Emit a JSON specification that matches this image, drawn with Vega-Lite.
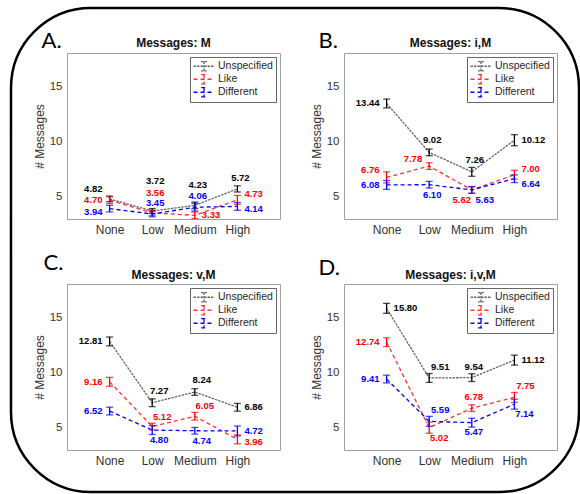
{
"$schema": "https://vega.github.io/schema/vega-lite/v6.json",
"padding": {"left": 9, "top": 6, "right": 0, "bottom": 0},
"autosize": {"type": "pad"},
"data": {"values": [
{"p":"A","s":"Unspecified","l":"None","v":4.82,"e":0.25},
{"p":"A","s":"Unspecified","l":"Low","v":3.72,"e":0.22},
{"p":"A","s":"Unspecified","l":"Medium","v":4.23,"e":0.3},
{"p":"A","s":"Unspecified","l":"High","v":5.72,"e":0.28},
{"p":"A","s":"Like","l":"None","v":4.70,"e":0.3},
{"p":"A","s":"Like","l":"Low","v":3.56,"e":0.25},
{"p":"A","s":"Like","l":"Medium","v":3.33,"e":0.3},
{"p":"A","s":"Like","l":"High","v":4.73,"e":0.4},
{"p":"A","s":"Different","l":"None","v":3.94,"e":0.3},
{"p":"A","s":"Different","l":"Low","v":3.45,"e":0.25},
{"p":"A","s":"Different","l":"Medium","v":4.06,"e":0.35},
{"p":"A","s":"Different","l":"High","v":4.14,"e":0.35},
{"p":"B","s":"Unspecified","l":"None","v":13.44,"e":0.4},
{"p":"B","s":"Unspecified","l":"Low","v":9.02,"e":0.3},
{"p":"B","s":"Unspecified","l":"Medium","v":7.26,"e":0.4},
{"p":"B","s":"Unspecified","l":"High","v":10.12,"e":0.5},
{"p":"B","s":"Like","l":"None","v":6.76,"e":0.5},
{"p":"B","s":"Like","l":"Low","v":7.78,"e":0.3},
{"p":"B","s":"Like","l":"Medium","v":5.62,"e":0.3},
{"p":"B","s":"Like","l":"High","v":7.00,"e":0.4},
{"p":"B","s":"Different","l":"None","v":6.08,"e":0.4},
{"p":"B","s":"Different","l":"Low","v":6.10,"e":0.3},
{"p":"B","s":"Different","l":"Medium","v":5.63,"e":0.3},
{"p":"B","s":"Different","l":"High","v":6.64,"e":0.35},
{"p":"C","s":"Unspecified","l":"None","v":12.81,"e":0.4},
{"p":"C","s":"Unspecified","l":"Low","v":7.27,"e":0.35},
{"p":"C","s":"Unspecified","l":"Medium","v":8.24,"e":0.3},
{"p":"C","s":"Unspecified","l":"High","v":6.86,"e":0.35},
{"p":"C","s":"Like","l":"None","v":9.16,"e":0.4},
{"p":"C","s":"Like","l":"Low","v":5.12,"e":0.3},
{"p":"C","s":"Like","l":"Medium","v":6.05,"e":0.35},
{"p":"C","s":"Like","l":"High","v":3.96,"e":0.4},
{"p":"C","s":"Different","l":"None","v":6.52,"e":0.35},
{"p":"C","s":"Different","l":"Low","v":4.80,"e":0.4},
{"p":"C","s":"Different","l":"Medium","v":4.74,"e":0.3},
{"p":"C","s":"Different","l":"High","v":4.72,"e":0.45},
{"p":"D","s":"Unspecified","l":"None","v":15.80,"e":0.45},
{"p":"D","s":"Unspecified","l":"Low","v":9.51,"e":0.4},
{"p":"D","s":"Unspecified","l":"Medium","v":9.54,"e":0.35},
{"p":"D","s":"Unspecified","l":"High","v":11.12,"e":0.45},
{"p":"D","s":"Like","l":"None","v":12.74,"e":0.4},
{"p":"D","s":"Like","l":"Low","v":5.02,"e":0.5},
{"p":"D","s":"Like","l":"Medium","v":6.78,"e":0.3},
{"p":"D","s":"Like","l":"High","v":7.75,"e":0.45},
{"p":"D","s":"Different","l":"None","v":9.41,"e":0.35},
{"p":"D","s":"Different","l":"Low","v":5.59,"e":0.45},
{"p":"D","s":"Different","l":"Medium","v":5.47,"e":0.4},
{"p":"D","s":"Different","l":"High","v":7.14,"e":0.45}
]},
"columns": 2,
"spacing": {"row": 65, "column": 64},
"bounds": "flush",
"resolve": {"scale": {"x": "independent", "y": "independent", "color": "independent", "strokeDash": "independent", "opacity": "independent"}},
"concat": [
{
 "width": 213, "height": 166,
 "transform": [{"filter": "datum.p == 'A'"}],
 "encoding": {
  "x": {"field": "l", "type": "ordinal", "sort": ["None","Low","Medium","High"], "scale": {"type": "point", "padding": 1}, "axis": {"title": null, "labelAngle": 0, "labelFontSize": 12, "labelPadding": 5}},
  "y": {"field": "v", "type": "quantitative", "scale": {"domain": [3, 18], "nice": false, "zero": false}, "axis": {"title": "# Messages", "values": [5, 10, 15], "labelFontSize": 11.5, "titleFontSize": 12, "labelPadding": 5, "titlePadding": 3}},
  "color": {"field": "s", "type": "nominal", "scale": {"domain": ["Unspecified","Like","Different"], "range": ["#000000","#ff0000","#0000ff"]}, "legend": {"title": null}}
 },
 "layer": [
  {"transform": [{"filter": "datum.s == 'Unspecified' && datum.l == 'None'"}], "mark": {"type": "rect", "filled": false, "stroke": "black", "strokeWidth": 2.5, "cornerRadius": 80, "clip": false}, "encoding": {"x": {"value": -56}, "x2": {"value": 512}, "y": {"value": -45}, "y2": {"value": 439}, "color": {"value": "black"}}},
  {"transform": [{"filter": "datum.s == 'Unspecified' && datum.l == 'None'"}], "mark": {"type": "text", "text": "A.", "font": "Lato", "fontSize": 22, "align": "left", "baseline": "alphabetic", "dx": -68, "dy": -5}, "encoding": {"x": {"datum": "None"}, "y": {"datum": 18}, "color": {"value": "black"}}},
  {"transform": [{"filter": "datum.s == 'Unspecified' && datum.l == 'None'"}], "mark": {"type": "text", "text": "Messages: M", "fontSize": 12, "fontWeight": "bold", "align": "center", "baseline": "alphabetic", "dx": 21.3, "dy": -6}, "encoding": {"x": {"datum": "Low"}, "y": {"datum": 18}, "color": {"value": "#111111"}}},
  {"mark": {"type": "line", "strokeWidth": 1.3}, "encoding": {"strokeDash": {"field": "s", "type": "nominal", "scale": {"domain": ["Unspecified","Like","Different"], "range": [[2.5,1],[4,3],[4,3]]}, "legend": {"title": null}}, "opacity": {"field": "s", "type": "nominal", "scale": {"domain": ["Unspecified","Like","Different"], "range": [0.6,1,1]}, "legend": null}}},
  {"mark": {"type": "errorbar", "ticks": {"size": 7}, "thickness": 1.3}, "encoding": {"yError": {"field": "e"}}},
  {"transform": [{"filter": "indexof(['LNone'], substring(datum.s,0,1)+datum.l) >= 0"}], "mark": {"type": "text", "align": "right", "baseline": "middle", "dx": -7, "dy": 0, "fontWeight": "bold", "fontSize": 9.5}, "encoding": {"text": {"field": "v", "type": "quantitative", "format": ".2f"}}},
  {"transform": [{"filter": "indexof(['DNone'], substring(datum.s,0,1)+datum.l) >= 0"}], "mark": {"type": "text", "align": "right", "baseline": "middle", "dx": -7, "dy": 3, "fontWeight": "bold", "fontSize": 9.5}, "encoding": {"text": {"field": "v", "type": "quantitative", "format": ".2f"}}},
  {"transform": [{"filter": "indexof(['UNone'], substring(datum.s,0,1)+datum.l) >= 0"}], "mark": {"type": "text", "align": "right", "baseline": "middle", "dx": -7, "dy": -10, "fontWeight": "bold", "fontSize": 9.5}, "encoding": {"text": {"field": "v", "type": "quantitative", "format": ".2f"}}},
  {"transform": [{"filter": "indexof(['LMedium'], substring(datum.s,0,1)+datum.l) >= 0"}], "mark": {"type": "text", "align": "left", "baseline": "middle", "dx": 7, "dy": 0, "fontWeight": "bold", "fontSize": 9.5}, "encoding": {"text": {"field": "v", "type": "quantitative", "format": ".2f"}}},
  {"transform": [{"filter": "indexof(['LHigh'], substring(datum.s,0,1)+datum.l) >= 0"}], "mark": {"type": "text", "align": "left", "baseline": "middle", "dx": 7, "dy": -6, "fontWeight": "bold", "fontSize": 9.5}, "encoding": {"text": {"field": "v", "type": "quantitative", "format": ".2f"}}},
  {"transform": [{"filter": "indexof(['DHigh'], substring(datum.s,0,1)+datum.l) >= 0"}], "mark": {"type": "text", "align": "left", "baseline": "middle", "dx": 7, "dy": 3, "fontWeight": "bold", "fontSize": 9.5}, "encoding": {"text": {"field": "v", "type": "quantitative", "format": ".2f"}}},
  {"transform": [{"filter": "indexof(['UHigh','DLow','DMedium'], substring(datum.s,0,1)+datum.l) >= 0"}], "mark": {"type": "text", "align": "center", "baseline": "middle", "dx": 3, "dy": -11, "fontWeight": "bold", "fontSize": 9.5}, "encoding": {"text": {"field": "v", "type": "quantitative", "format": ".2f"}}},
  {"transform": [{"filter": "indexof(['LLow','UMedium'], substring(datum.s,0,1)+datum.l) >= 0"}], "mark": {"type": "text", "align": "center", "baseline": "middle", "dx": 3, "dy": -20, "fontWeight": "bold", "fontSize": 9.5}, "encoding": {"text": {"field": "v", "type": "quantitative", "format": ".2f"}}},
  {"transform": [{"filter": "indexof(['ULow'], substring(datum.s,0,1)+datum.l) >= 0"}], "mark": {"type": "text", "align": "center", "baseline": "middle", "dx": 3, "dy": -30, "fontWeight": "bold", "fontSize": 9.5}, "encoding": {"text": {"field": "v", "type": "quantitative", "format": ".2f"}}}
 ]
},
{
 "width": 213, "height": 166,
 "transform": [{"filter": "datum.p == 'B'"}],
 "encoding": {
  "x": {"field": "l", "type": "ordinal", "sort": ["None","Low","Medium","High"], "scale": {"type": "point", "padding": 1}, "axis": {"title": null, "labelAngle": 0, "labelFontSize": 12, "labelPadding": 5}},
  "y": {"field": "v", "type": "quantitative", "scale": {"domain": [3, 18], "nice": false, "zero": false}, "axis": {"title": "# Messages", "values": [5, 10, 15], "labelFontSize": 11.5, "titleFontSize": 12, "labelPadding": 5, "titlePadding": 3}},
  "color": {"field": "s", "type": "nominal", "scale": {"domain": ["Unspecified","Like","Different"], "range": ["#000000","#ff0000","#0000ff"]}, "legend": {"title": null}}
 },
 "layer": [
  {"transform": [{"filter": "datum.s == 'Unspecified' && datum.l == 'None'"}], "mark": {"type": "text", "text": "B.", "font": "Lato", "fontSize": 22, "align": "left", "baseline": "alphabetic", "dx": -68, "dy": -5}, "encoding": {"x": {"datum": "None"}, "y": {"datum": 18}, "color": {"value": "black"}}},
  {"transform": [{"filter": "datum.s == 'Unspecified' && datum.l == 'None'"}], "mark": {"type": "text", "text": "Messages: i,M", "fontSize": 12, "fontWeight": "bold", "align": "center", "baseline": "alphabetic", "dx": 21.3, "dy": -6}, "encoding": {"x": {"datum": "Low"}, "y": {"datum": 18}, "color": {"value": "#111111"}}},
  {"mark": {"type": "line", "strokeWidth": 1.3}, "encoding": {"strokeDash": {"field": "s", "type": "nominal", "scale": {"domain": ["Unspecified","Like","Different"], "range": [[2.5,1],[4,3],[4,3]]}, "legend": {"title": null}}, "opacity": {"field": "s", "type": "nominal", "scale": {"domain": ["Unspecified","Like","Different"], "range": [0.6,1,1]}, "legend": null}}},
  {"mark": {"type": "errorbar", "ticks": {"size": 7}, "thickness": 1.3}, "encoding": {"yError": {"field": "e"}}},
  {"transform": [{"filter": "indexof(['UNone','DNone'], substring(datum.s,0,1)+datum.l) >= 0"}], "mark": {"type": "text", "align": "right", "baseline": "middle", "dx": -7, "dy": 0, "fontWeight": "bold", "fontSize": 9.5}, "encoding": {"text": {"field": "v", "type": "quantitative", "format": ".2f"}}},
  {"transform": [{"filter": "indexof(['LNone','LLow'], substring(datum.s,0,1)+datum.l) >= 0"}], "mark": {"type": "text", "align": "right", "baseline": "middle", "dx": -7, "dy": -7, "fontWeight": "bold", "fontSize": 9.5}, "encoding": {"text": {"field": "v", "type": "quantitative", "format": ".2f"}}},
  {"transform": [{"filter": "indexof(['UHigh'], substring(datum.s,0,1)+datum.l) >= 0"}], "mark": {"type": "text", "align": "left", "baseline": "middle", "dx": 7, "dy": 0, "fontWeight": "bold", "fontSize": 9.5}, "encoding": {"text": {"field": "v", "type": "quantitative", "format": ".2f"}}},
  {"transform": [{"filter": "indexof(['LHigh'], substring(datum.s,0,1)+datum.l) >= 0"}], "mark": {"type": "text", "align": "left", "baseline": "middle", "dx": 7, "dy": -6, "fontWeight": "bold", "fontSize": 9.5}, "encoding": {"text": {"field": "v", "type": "quantitative", "format": ".2f"}}},
  {"transform": [{"filter": "indexof(['DHigh'], substring(datum.s,0,1)+datum.l) >= 0"}], "mark": {"type": "text", "align": "left", "baseline": "middle", "dx": 7, "dy": 5, "fontWeight": "bold", "fontSize": 9.5}, "encoding": {"text": {"field": "v", "type": "quantitative", "format": ".2f"}}},
  {"transform": [{"filter": "indexof(['ULow','UMedium'], substring(datum.s,0,1)+datum.l) >= 0"}], "mark": {"type": "text", "align": "center", "baseline": "middle", "dx": 3, "dy": -12, "fontWeight": "bold", "fontSize": 9.5}, "encoding": {"text": {"field": "v", "type": "quantitative", "format": ".2f"}}},
  {"transform": [{"filter": "indexof(['DLow'], substring(datum.s,0,1)+datum.l) >= 0"}], "mark": {"type": "text", "align": "center", "baseline": "middle", "dx": 3, "dy": 10, "fontWeight": "bold", "fontSize": 9.5}, "encoding": {"text": {"field": "v", "type": "quantitative", "format": ".2f"}}},
  {"transform": [{"filter": "indexof(['LMedium'], substring(datum.s,0,1)+datum.l) >= 0"}], "mark": {"type": "text", "align": "center", "baseline": "middle", "dx": -10, "dy": 10, "fontWeight": "bold", "fontSize": 9.5}, "encoding": {"text": {"field": "v", "type": "quantitative", "format": ".2f"}}},
  {"transform": [{"filter": "indexof(['DMedium'], substring(datum.s,0,1)+datum.l) >= 0"}], "mark": {"type": "text", "align": "center", "baseline": "middle", "dx": 13, "dy": 10, "fontWeight": "bold", "fontSize": 9.5}, "encoding": {"text": {"field": "v", "type": "quantitative", "format": ".2f"}}}
 ]
},
{
 "width": 213, "height": 166,
 "transform": [{"filter": "datum.p == 'C'"}],
 "encoding": {
  "x": {"field": "l", "type": "ordinal", "sort": ["None","Low","Medium","High"], "scale": {"type": "point", "padding": 1}, "axis": {"title": null, "labelAngle": 0, "labelFontSize": 12, "labelPadding": 5}},
  "y": {"field": "v", "type": "quantitative", "scale": {"domain": [3, 18], "nice": false, "zero": false}, "axis": {"title": "# Messages", "values": [5, 10, 15], "labelFontSize": 11.5, "titleFontSize": 12, "labelPadding": 5, "titlePadding": 3}},
  "color": {"field": "s", "type": "nominal", "scale": {"domain": ["Unspecified","Like","Different"], "range": ["#000000","#ff0000","#0000ff"]}, "legend": {"title": null}}
 },
 "layer": [
  {"transform": [{"filter": "datum.s == 'Unspecified' && datum.l == 'None'"}], "mark": {"type": "text", "text": "C.", "font": "Lato", "fontSize": 22, "align": "left", "baseline": "alphabetic", "dx": -66, "dy": -14}, "encoding": {"x": {"datum": "None"}, "y": {"datum": 18}, "color": {"value": "black"}}},
  {"transform": [{"filter": "datum.s == 'Unspecified' && datum.l == 'None'"}], "mark": {"type": "text", "text": "Messages: v,M", "fontSize": 12, "fontWeight": "bold", "align": "center", "baseline": "alphabetic", "dx": 21.3, "dy": -5}, "encoding": {"x": {"datum": "Low"}, "y": {"datum": 18}, "color": {"value": "#111111"}}},
  {"mark": {"type": "line", "strokeWidth": 1.3}, "encoding": {"strokeDash": {"field": "s", "type": "nominal", "scale": {"domain": ["Unspecified","Like","Different"], "range": [[2.5,1],[4,3],[4,3]]}, "legend": {"title": null}}, "opacity": {"field": "s", "type": "nominal", "scale": {"domain": ["Unspecified","Like","Different"], "range": [0.6,1,1]}, "legend": null}}},
  {"mark": {"type": "errorbar", "ticks": {"size": 7}, "thickness": 1.3}, "encoding": {"yError": {"field": "e"}}},
  {"transform": [{"filter": "indexof(['UNone','LNone','DNone'], substring(datum.s,0,1)+datum.l) >= 0"}], "mark": {"type": "text", "align": "right", "baseline": "middle", "dx": -7, "dy": 0, "fontWeight": "bold", "fontSize": 9.5}, "encoding": {"text": {"field": "v", "type": "quantitative", "format": ".2f"}}},
  {"transform": [{"filter": "indexof(['UHigh','DHigh'], substring(datum.s,0,1)+datum.l) >= 0"}], "mark": {"type": "text", "align": "left", "baseline": "middle", "dx": 7, "dy": 0, "fontWeight": "bold", "fontSize": 9.5}, "encoding": {"text": {"field": "v", "type": "quantitative", "format": ".2f"}}},
  {"transform": [{"filter": "indexof(['LHigh'], substring(datum.s,0,1)+datum.l) >= 0"}], "mark": {"type": "text", "align": "left", "baseline": "middle", "dx": 7, "dy": 3, "fontWeight": "bold", "fontSize": 9.5}, "encoding": {"text": {"field": "v", "type": "quantitative", "format": ".2f"}}},
  {"transform": [{"filter": "indexof(['ULow','UMedium'], substring(datum.s,0,1)+datum.l) >= 0"}], "mark": {"type": "text", "align": "center", "baseline": "middle", "dx": 7, "dy": -12, "fontWeight": "bold", "fontSize": 9.5}, "encoding": {"text": {"field": "v", "type": "quantitative", "format": ".2f"}}},
  {"transform": [{"filter": "indexof(['LLow','LMedium'], substring(datum.s,0,1)+datum.l) >= 0"}], "mark": {"type": "text", "align": "center", "baseline": "middle", "dx": 10, "dy": -10, "fontWeight": "bold", "fontSize": 9.5}, "encoding": {"text": {"field": "v", "type": "quantitative", "format": ".2f"}}},
  {"transform": [{"filter": "indexof(['DLow','DMedium'], substring(datum.s,0,1)+datum.l) >= 0"}], "mark": {"type": "text", "align": "center", "baseline": "middle", "dx": 7, "dy": 10, "fontWeight": "bold", "fontSize": 9.5}, "encoding": {"text": {"field": "v", "type": "quantitative", "format": ".2f"}}}
 ]
},
{
 "width": 213, "height": 166,
 "transform": [{"filter": "datum.p == 'D'"}],
 "encoding": {
  "x": {"field": "l", "type": "ordinal", "sort": ["None","Low","Medium","High"], "scale": {"type": "point", "padding": 1}, "axis": {"title": null, "labelAngle": 0, "labelFontSize": 12, "labelPadding": 5}},
  "y": {"field": "v", "type": "quantitative", "scale": {"domain": [3, 18], "nice": false, "zero": false}, "axis": {"title": "# Messages", "values": [5, 10, 15], "labelFontSize": 11.5, "titleFontSize": 12, "labelPadding": 5, "titlePadding": 3}},
  "color": {"field": "s", "type": "nominal", "scale": {"domain": ["Unspecified","Like","Different"], "range": ["#000000","#ff0000","#0000ff"]}, "legend": {"title": null}}
 },
 "layer": [
  {"transform": [{"filter": "datum.s == 'Unspecified' && datum.l == 'None'"}], "mark": {"type": "text", "text": "D.", "font": "Lato", "fontSize": 22, "align": "left", "baseline": "alphabetic", "dx": -68, "dy": -9}, "encoding": {"x": {"datum": "None"}, "y": {"datum": 18}, "color": {"value": "black"}}},
  {"transform": [{"filter": "datum.s == 'Unspecified' && datum.l == 'None'"}], "mark": {"type": "text", "text": "Messages: i,v,M", "fontSize": 12, "fontWeight": "bold", "align": "center", "baseline": "alphabetic", "dx": 21.3, "dy": -5}, "encoding": {"x": {"datum": "Low"}, "y": {"datum": 18}, "color": {"value": "#111111"}}},
  {"mark": {"type": "line", "strokeWidth": 1.3}, "encoding": {"strokeDash": {"field": "s", "type": "nominal", "scale": {"domain": ["Unspecified","Like","Different"], "range": [[2.5,1],[4,3],[4,3]]}, "legend": {"title": null}}, "opacity": {"field": "s", "type": "nominal", "scale": {"domain": ["Unspecified","Like","Different"], "range": [0.6,1,1]}, "legend": null}}},
  {"mark": {"type": "errorbar", "ticks": {"size": 7}, "thickness": 1.3}, "encoding": {"yError": {"field": "e"}}},
  {"transform": [{"filter": "indexof(['LNone','DNone'], substring(datum.s,0,1)+datum.l) >= 0"}], "mark": {"type": "text", "align": "right", "baseline": "middle", "dx": -7, "dy": 0, "fontWeight": "bold", "fontSize": 9.5}, "encoding": {"text": {"field": "v", "type": "quantitative", "format": ".2f"}}},
  {"transform": [{"filter": "indexof(['UNone','UHigh'], substring(datum.s,0,1)+datum.l) >= 0"}], "mark": {"type": "text", "align": "left", "baseline": "middle", "dx": 7, "dy": 0, "fontWeight": "bold", "fontSize": 9.5}, "encoding": {"text": {"field": "v", "type": "quantitative", "format": ".2f"}}},
  {"transform": [{"filter": "indexof(['UMedium','LMedium'], substring(datum.s,0,1)+datum.l) >= 0"}], "mark": {"type": "text", "align": "center", "baseline": "middle", "dx": 2, "dy": -11, "fontWeight": "bold", "fontSize": 9.5}, "encoding": {"text": {"field": "v", "type": "quantitative", "format": ".2f"}}},
  {"transform": [{"filter": "indexof(['ULow','LHigh','DLow'], substring(datum.s,0,1)+datum.l) >= 0"}], "mark": {"type": "text", "align": "center", "baseline": "middle", "dx": 11, "dy": -11, "fontWeight": "bold", "fontSize": 9.5}, "encoding": {"text": {"field": "v", "type": "quantitative", "format": ".2f"}}},
  {"transform": [{"filter": "indexof(['DMedium'], substring(datum.s,0,1)+datum.l) >= 0"}], "mark": {"type": "text", "align": "center", "baseline": "middle", "dx": 2, "dy": 9, "fontWeight": "bold", "fontSize": 9.5}, "encoding": {"text": {"field": "v", "type": "quantitative", "format": ".2f"}}},
  {"transform": [{"filter": "indexof(['LLow','DHigh'], substring(datum.s,0,1)+datum.l) >= 0"}], "mark": {"type": "text", "align": "center", "baseline": "middle", "dx": 10, "dy": 10, "fontWeight": "bold", "fontSize": 9.5}, "encoding": {"text": {"field": "v", "type": "quantitative", "format": ".2f"}}}
 ]
}
],
"config": {
 "font": "Liberation Sans",
 "background": "white",
 "view": {"stroke": "#a0a0a0", "strokeWidth": 1},
 "axis": {"grid": false, "ticks": false, "domain": false, "labelColor": "#333333", "titleColor": "#333333", "labelFont": "Liberation Sans", "titleFont": "Liberation Sans", "titleFontWeight": "normal"},
 "legend": {"orient": "top-right", "offset": 4, "padding": 3, "strokeColor": "#666666", "fillColor": "white", "symbolType": "M-2,0H2M0,-0.9V0.9M-0.55,-0.9H0.55M-0.55,0.9H0.55", "symbolSize": 110, "symbolOffset": 5, "symbolStrokeWidth": 1.3, "symbolFillColor": "transparent", "labelFontSize": 10.5, "labelColor": "#262626", "labelFont": "Liberation Sans", "rowPadding": 0, "clipHeight": 12.5, "labelOffset": 8}
}
}
